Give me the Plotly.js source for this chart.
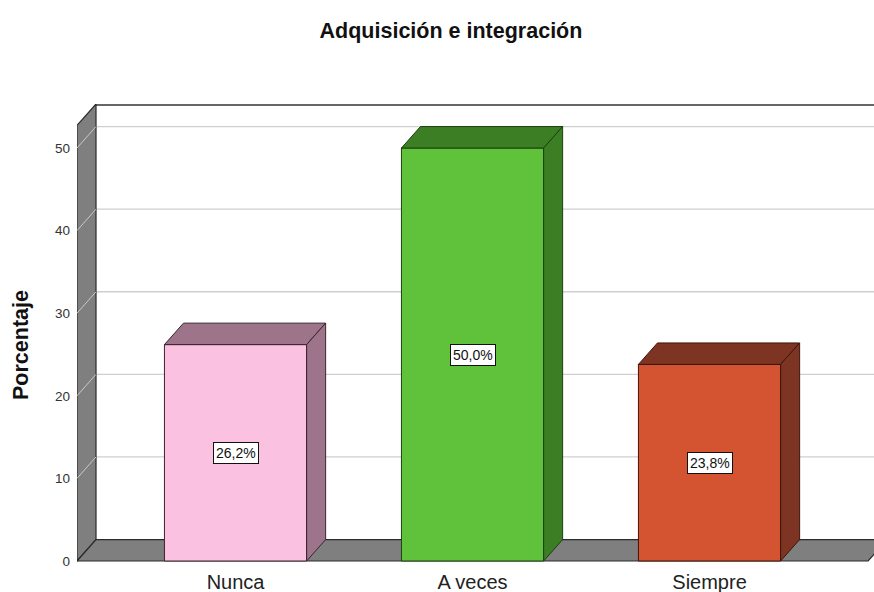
<!DOCTYPE html>
<html>
<head>
<meta charset="utf-8">
<script src="https://cdn.plot.ly/plotly-3.0.1.min.js"></script>
<style>html,body{margin:0;padding:0;background:#fff;}#chart{width:874px;height:592px;}</style>
</head>
<body>
<div id="chart"></div>
<script>
// ---- data ----
const categories = ["Nunca", "A veces", "Siempre"];
const values = [26.2, 50.0, 23.8];
const yTickVals = [0, 10, 20, 30, 40, 50];
const frontColors = ["#fbc1e1", "#60c13b", "#d45431"];
const sideColors = ["#9d7489", "#3b7e24", "#7e3422"];
const edgeColors = ["#3c2331", "#1d3f10", "#3d150b"];

// ---- geometry (3D look) ----
const xs = categories.map((c, i) => i);
const barW = 0.6;
const dx = 0.0802;   // depth offset in x units
const dy = 2.6;      // depth offset in y units
const xMin = -0.669, xMax = 2.694;
const yMin = -0.242, yMax = 55.33;
const yFrontTop = yMax - dy;
const xFrontRight = 2.669;
const FONT = 'Liberation Sans, Arial, sans-serif';

const shapes = [];
// back wall
shapes.push({type:'rect', xref:'x', yref:'y', x0:xMin+dx, x1:xMax+1, y0:dy, y1:yMax,
  fillcolor:'#ffffff', line:{width:0}, layer:'below'});
// back gridlines
yTickVals.filter(v => v > 0).forEach(v => {
  shapes.push({type:'line', xref:'x', yref:'y', x0:xMin+dx, x1:xMax+1, y0:v+dy, y1:v+dy,
    line:{color:'#cfcfcf', width:1.3}, layer:'below'});
});
// back wall top border
shapes.push({type:'line', xref:'x', yref:'y', x0:xMin+dx, x1:xMax+1, y0:yMax-0.12, y1:yMax-0.12,
  line:{color:'#333333', width:1.5}, layer:'below'});
// left wall
shapes.push({type:'path', xref:'x', yref:'y',
  path:`M ${xMin} 0 L ${xMin} ${yFrontTop} L ${xMin+dx} ${yMax} L ${xMin+dx} ${dy} Z`,
  fillcolor:'#7f7f7f', line:{color:'#2a2a2a', width:1.2}, layer:'below'});
// floor
shapes.push({type:'path', xref:'x', yref:'y',
  path:`M ${xMin} 0 L ${xFrontRight} 0 L ${xFrontRight+dx} ${dy} L ${xMin+dx} ${dy} Z`,
  fillcolor:'#7f7f7f', line:{color:'#2a2a2a', width:1.2}, layer:'below'});
// diagonal gridlines on left wall
yTickVals.filter(v => v > 0).forEach(v => {
  shapes.push({type:'line', xref:'x', yref:'y', x0:xMin, x1:xMin+dx, y0:v, y1:v+dy,
    line:{color:'#c9c9c9', width:1}, layer:'below'});
});
// bar top and side faces
values.forEach((v, i) => {
  const xl = xs[i] - barW/2, xr = xs[i] + barW/2;
  shapes.push({type:'path', xref:'x', yref:'y',
    path:`M ${xl} ${v} L ${xl+dx} ${v+dy} L ${xr+dx} ${v+dy} L ${xr} ${v} Z`,
    fillcolor:sideColors[i], line:{color:edgeColors[i], width:1}, layer:'above'});
  shapes.push({type:'path', xref:'x', yref:'y',
    path:`M ${xr} 0 L ${xr} ${v} L ${xr+dx} ${v+dy} L ${xr+dx} ${dy} Z`,
    fillcolor:sideColors[i], line:{color:edgeColors[i], width:1}, layer:'above'});
});

const annotations = values.map((v, i) => ({
  x: xs[i], y: v/2, xref:'x', yref:'y', showarrow:false,
  text: v.toFixed(1).replace('.', ',') + '%',
  font:{family:FONT, size:14, color:'#111'},
  bgcolor:'#ffffff', bordercolor:'#111111', borderwidth:1, borderpad:2
}));

const trace = {
  type:'bar', x: xs, y: values, width: barW,
  marker:{color: frontColors, line:{color: edgeColors, width:1}},
  hoverinfo:'skip', showlegend:false
};

const layout = {
  width:874, height:592,
  margin:{l:77, r:0, t:104, b:29},
  paper_bgcolor:'#ffffff', plot_bgcolor:'rgba(0,0,0,0)',
  title:{text:'<b>Adquisición e integración</b>', x:0.516, xref:'container', xanchor:'center',
    y:0.949, yref:'container', yanchor:'middle',
    font:{family:FONT, size:21.5, color:'#111'}},
  xaxis:{range:[xMin, xMax], tickvals: xs, ticktext: categories, showgrid:false, zeroline:false,
    showline:false, ticks:'', ticklabelstandoff:5, fixedrange:true,
    tickfont:{family:FONT, size:20, color:'#222'}},
  yaxis:{range:[yMin, yMax], tickvals: yTickVals, showgrid:false, zeroline:false, showline:false,
    ticks:'', ticklabelstandoff:6, fixedrange:true,
    tickfont:{family:FONT, size:13.5, color:'#333'}},
  shapes: shapes,
  annotations: annotations.concat([{
    text:'<b>Porcentaje</b>', xref:'paper', yref:'paper', x:(21-77)/797, y:(561-343)/459,
    xanchor:'center', yanchor:'middle', textangle:-90, showarrow:false,
    font:{family:FONT, size:21.5, color:'#111'}
  }])
};

Plotly.newPlot('chart', [trace], layout, {displayModeBar:false, staticPlot:true});
</script>
</body>
</html>
